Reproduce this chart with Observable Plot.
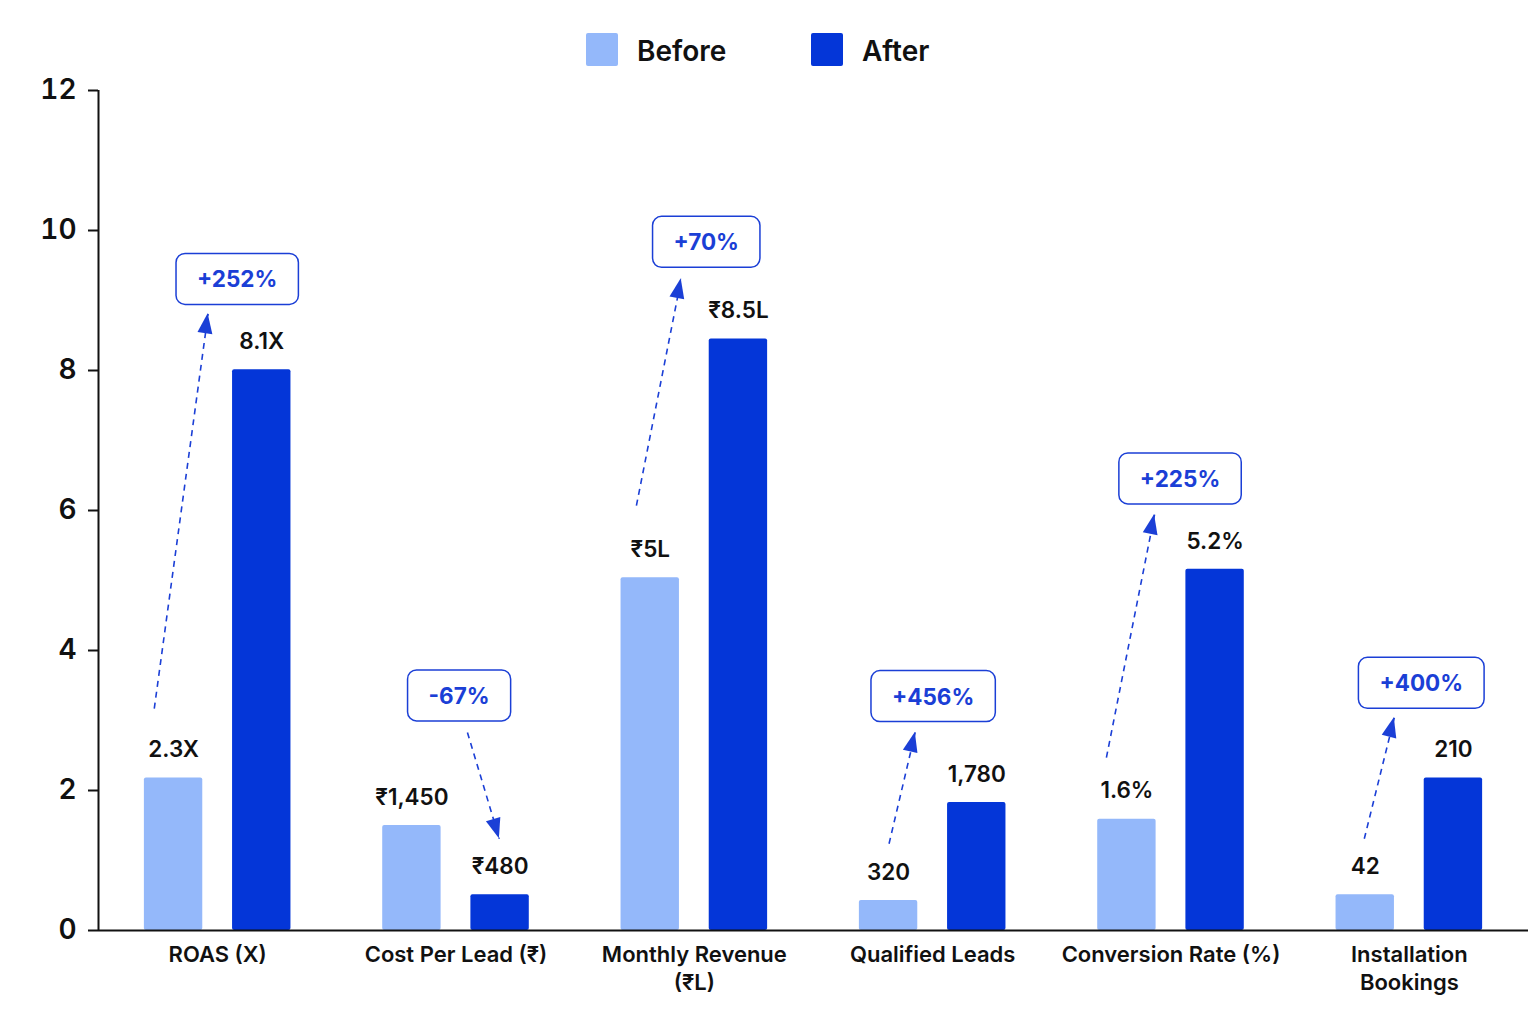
<!DOCTYPE html>
<html><head><meta charset="utf-8">
<script src="https://cdn.jsdelivr.net/npm/d3@7"></script>
<script src="https://cdn.jsdelivr.net/npm/@observablehq/plot@0.6"></script>
<style>
body{margin:0;background:#fff;font-family:Inter,"Noto Sans",sans-serif;}
#wrap{position:relative;width:1536px;height:1024px;overflow:hidden;}
#legend{position:relative;height:70px;}
.sw{position:absolute;top:33px;width:32px;height:33px;border-radius:2px;}
.lt{position:absolute;top:33px;font-size:28px;font-weight:600;line-height:36px;color:#111;}
#chart svg{display:block;}
</style></head><body>
<div id="wrap"><div id="legend"></div><div id="chart"></div></div>
<script>
// ---- data ----
const categories = ["ROAS (X)", "Cost Per Lead (₹)", "Monthly Revenue\n(₹L)", "Qualified Leads", "Conversion Rate (%)", "Installation\nBookings"];
const seriesNames = ["Before", "After"];
const seriesColors = ["#94b8fa", "#0436d8"];
const beforeValues = [2.18, 1.50, 5.04, 0.43, 1.59, 0.51];
const afterValues = [8.01, 0.51, 8.45, 1.83, 5.16, 2.18];
const beforeLabels = ["2.3X", "₹1,450", "₹5L", "320", "1.6%", "42"];
const afterLabels = ["8.1X", "₹480", "₹8.5L", "1,780", "5.2%", "210"];
const changeLabels = ["+252%", "-67%", "+70%", "+456%", "+225%", "+400%"];
// annotation arrows (x as offset from group centre, y in axis units)
const arrowFromX = [-0.266, 0.048, -0.243, -0.183, -0.271, -0.189];
const arrowFromY = [3.17, 2.83, 6.07, 1.24, 2.47, 1.31];
const arrowToX = [-0.040, 0.182, -0.055, -0.073, -0.069, -0.063];
const arrowToY = [8.81, 1.31, 9.31, 2.83, 5.94, 3.04];
const boxX = [0.082, 0.013, 0.050, 0.002, 0.038, 0.050];
const boxY = [9.29, 3.34, 9.82, 3.33, 6.44, 3.52];
const yTicks = [0, 2, 4, 6, 8, 10, 12];
const xDomain = [-0.5, 5.5];
const annoColor = "#1b3fd6";

// ---- legend ----
const legend = document.getElementById("legend");
const legendLeft = [586, 811];
seriesNames.forEach((n, k) => {
  const s = document.createElement("div");
  s.className = "sw"; s.style.left = legendLeft[k] + "px"; s.style.background = seriesColors[k];
  const t = document.createElement("div");
  t.className = "lt"; t.style.left = (legendLeft[k] + 51) + "px"; t.textContent = n;
  legend.append(s, t);
});

// ---- tables ----
const off = [-0.185, 0.185];
const hw = 0.1225;
const bars = [];
categories.forEach((c, i) => {
  bars.push({i, series: "Before", value: beforeValues[i], label: beforeLabels[i], off: off[0]});
  bars.push({i, series: "After", value: afterValues[i], label: afterLabels[i], off: off[1]});
});
const annos = categories.map((c, i) => ({
  i, fx: i + arrowFromX[i], fy: arrowFromY[i], tx: i + arrowToX[i], ty: arrowToY[i],
  bx: i + boxX[i], by: boxY[i], text: changeLabels[i]
}));
const cats = categories.map((c, i) => ({i, c}));

const plot = Plot.plot({
  width: 1536, height: 954,
  marginLeft: 98, marginRight: 8, marginTop: 20, marginBottom: 94,
  style: {fontFamily: "Inter, 'Noto Sans', sans-serif", color: "#111", background: "transparent"},
  x: {domain: xDomain, axis: null},
  y: {domain: [0, 12], axis: null},
  color: {domain: seriesNames, range: seriesColors},
  marks: [
    Plot.rectY(bars, {x1: d => d.i + d.off - hw, x2: d => d.i + d.off + hw, y: "value", fill: "series", rx: 2}),
    Plot.text(bars, {x: d => d.i + d.off, y: "value", text: "label", dy: -28, fontSize: 22.5, fontWeight: 600, fill: "#111"}),
    Plot.axisY({ticks: yTicks, tickSize: 10, tickPadding: 12, fontSize: 28, fontWeight: 600, strokeWidth: 2, label: null, stroke: "#111", fill: "#111"}),
    Plot.ruleX([xDomain[0]], {y1: 0, y2: 12, stroke: "#111", strokeWidth: 2}),
    Plot.ruleY([0], {stroke: "#111", strokeWidth: 2}),
    Plot.text(cats, {x: "i", y: 0, text: "c", dy: 12, lineAnchor: "top", lineHeight: 1.25, fontSize: 22, fontWeight: 600, fill: "#111"}),
    Plot.link(annos, {x1: "fx", y1: "fy", x2: "tx", y2: "ty", stroke: annoColor, strokeWidth: 1.6, strokeDasharray: "6,5"}),
    Plot.text(annos, {x: "bx", y: "by", text: "text", fontSize: 22.5, fontWeight: 700, fill: annoColor, className: "anno-text"})
  ]
});
document.getElementById("chart").append(plot);

// arrow heads and label boxes
const NS = "http://www.w3.org/2000/svg";
const sx = plot.scale("x"), sy = plot.scale("y");
const heads = document.createElementNS(NS, "g");
annos.forEach(a => {
  const x1 = sx.apply(a.fx), y1 = sy.apply(a.fy), x2 = sx.apply(a.tx), y2 = sy.apply(a.ty);
  const L = Math.hypot(x2 - x1, y2 - y1), ux = (x2 - x1) / L, uy = (y2 - y1) / L;
  const len = 20, w = 7.5;
  const bxp = x2 - ux * len, byp = y2 - uy * len;
  const p = document.createElementNS(NS, "polygon");
  p.setAttribute("points", `${x2},${y2} ${bxp - uy * w},${byp + ux * w} ${bxp + uy * w},${byp - ux * w}`);
  p.setAttribute("fill", annoColor);
  heads.append(p);
});
plot.append(heads);
plot.querySelectorAll("g.anno-text text").forEach(t => {
  const bb = t.getBBox();
  const r = document.createElementNS(NS, "rect");
  const w = bb.width + 42, h = 51;
  r.setAttribute("x", bb.x + bb.width / 2 - w / 2);
  r.setAttribute("y", bb.y + bb.height / 2 - h / 2);
  r.setAttribute("width", w); r.setAttribute("height", h);
  r.setAttribute("rx", 9);
  r.setAttribute("fill", "#fff"); r.setAttribute("stroke", annoColor); r.setAttribute("stroke-width", 1.5);
  if (t.getAttribute("transform")) r.setAttribute("transform", t.getAttribute("transform"));
  t.parentNode.insertBefore(r, t);
});
</script>
</body></html>
